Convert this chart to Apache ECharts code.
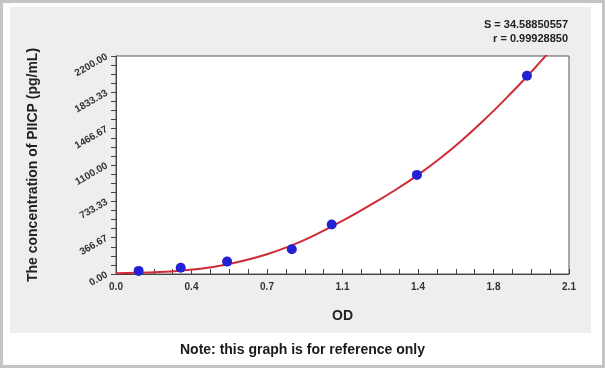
<!DOCTYPE html>
<html>
<head>
<meta charset="utf-8">
<script src="https://cdn.jsdelivr.net/npm/echarts@6/dist/echarts.min.js"></script>
<style>
html,body{margin:0;padding:0;background:#ffffff;}
#chart{width:605px;height:368px;}
</style>
</head>
<body>
<div id="chart"></div>
<script>
// Standard points (OD vs concentration)
const odValues = [0.105, 0.300, 0.515, 0.815, 1.000, 1.395, 1.905];
const concValues = [31.25, 62.5, 125, 250, 500, 1000, 2000];

// Fitted curve
const curveOD = [0, 0.1, 0.2, 0.3, 0.4, 0.5, 0.6, 0.7, 0.8, 0.9, 1.0, 1.1, 1.2, 1.3, 1.4, 1.5, 1.6, 1.7, 1.8, 1.9, 2.0];
const curveConc = [8, 12, 20, 34, 56, 91, 139, 200, 276, 370, 480, 597, 722, 855, 1001, 1163, 1343, 1541, 1755, 1981, 2221];

// Tick labels
const xTickLabels = ['0.0', '0.4', '0.7', '1.1', '1.4', '1.8', '2.1'];
const yTickLabels = ['0.00', '366.67', '733.33', '1100.00', '1466.67', '1833.33', '2200.00'];

const statLines = ['S = 34.58850557', 'r = 0.99928850'];

const xMax = 2.1, xInterval = 0.35;
const yMax = 2200, yInterval = 2200 / 6;

const fontFam = '"Liberation Sans", Arial, sans-serif';

const chart = echarts.init(document.getElementById('chart'), null, {renderer: 'canvas'});
chart.setOption({
  animation: false,
  backgroundColor: '#ffffff',
  textStyle: {fontFamily: fontFam},
  graphic: {
    elements: [
      {type: 'rect', z: -100, silent: true, shape: {x: 1.5, y: 1.5, width: 602, height: 365}, style: {fill: '#ffffff', stroke: '#c4c4c4', lineWidth: 3}},
      {type: 'rect', z: -99, silent: true, shape: {x: 10, y: 7, width: 581, height: 326}, style: {fill: '#eeeeee'}},
      {type: 'text', z: 10, left: 'center', top: 343, style: {text: 'Note: this graph is for reference only', fontSize: 14, fontWeight: 'bold', fill: '#1a1a1a', fontFamily: fontFam}},
      {type: 'text', z: 10, right: 37, top: 19, style: {text: statLines[0], fontSize: 11, fontWeight: 'bold', fill: '#222222', fontFamily: fontFam}},
      {type: 'text', z: 10, right: 37, top: 33.5, style: {text: statLines[1], fontSize: 11, fontWeight: 'bold', fill: '#222222', fontFamily: fontFam}}
    ]
  },
  grid: {left: 116, right: 36, top: 56, bottom: 94, show: true, backgroundColor: '#ffffff', borderColor: '#555555', borderWidth: 1},
  xAxis: {
    type: 'value', min: 0, max: xMax, interval: xInterval,
    name: 'OD', nameLocation: 'middle', nameGap: 35,
    nameTextStyle: {fontSize: 14, fontWeight: 'bold', color: '#222222'},
    axisLine: {show: true, lineStyle: {color: '#444444', width: 1}},
    axisTick: {show: true, inside: true, length: 5, lineStyle: {color: '#444444'}},
    minorTick: {show: true, splitNumber: 4, length: 5, lineStyle: {color: '#444444'}},
    splitLine: {show: false},
    axisLabel: {
      margin: 8, fontSize: 10, fontWeight: 'bold', color: '#333333',
      formatter: v => xTickLabels[Math.round(v / xInterval)] ?? ''
    }
  },
  yAxis: {
    type: 'value', min: 0, max: yMax, interval: yInterval,
    name: 'The concentration of PIICP (pg/mL)', nameLocation: 'middle', nameGap: 76,
    nameTextStyle: {fontSize: 14, fontWeight: 'bold', color: '#222222'},
    axisLine: {show: true, lineStyle: {color: '#444444', width: 1}},
    axisTick: {show: true, inside: false, length: 5, lineStyle: {color: '#444444'}},
    minorTick: {show: true, splitNumber: 4, length: 5, lineStyle: {color: '#444444'}},
    splitLine: {show: false},
    axisLabel: {
      margin: 9, rotate: 30, fontSize: 10, fontWeight: 'bold', color: '#333333',
      formatter: v => yTickLabels[Math.round(v / yInterval)] ?? ''
    }
  },
  series: [
    {
      type: 'line', smooth: 0.4, showSymbol: false, symbol: 'none', z: 2,
      data: curveOD.map((x, i) => [x, curveConc[i]]),
      lineStyle: {color: '#d02a36', width: 2}
    },
    {
      type: 'scatter', z: 3, symbolSize: 10,
      data: odValues.map((x, i) => [x, concValues[i]]),
      itemStyle: {color: '#2222d4', opacity: 1}
    }
  ]
});
</script>
</body>
</html>
